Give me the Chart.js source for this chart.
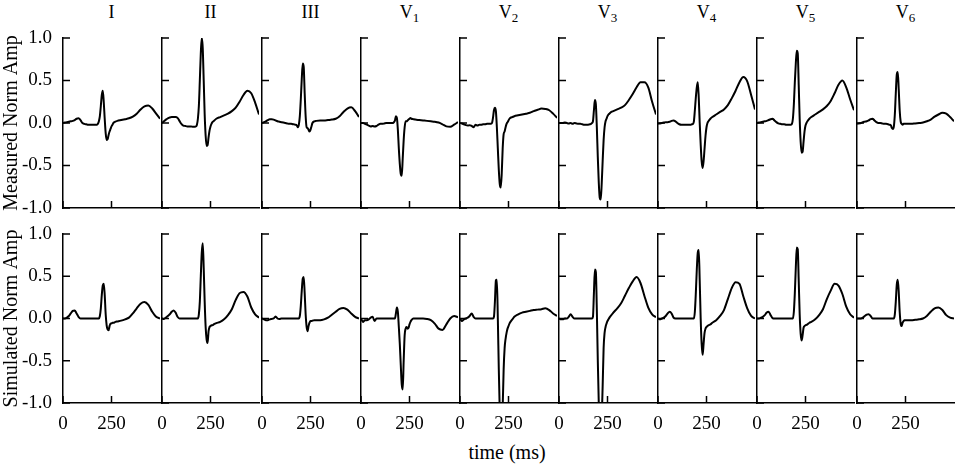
<!DOCTYPE html>
<html lang="en">
<head>
<meta charset="UTF-8" />
<title>Measured and simulated ECG leads</title>
<script src="https://cdn.jsdelivr.net/npm/chart.js"></script>
<style>
  html, body { margin: 0; padding: 0; background: #fff; }
  #fig { position: relative; width: 957px; height: 467px; overflow: hidden;
         font-family: 'Liberation Serif', 'Times New Roman', serif; color: #000; }
  .panel { position: absolute; }
  .lead { position: absolute; top: 0; width: 97px; text-align: center; font-size: 18px; line-height: 24px; color: #000; }
  .lead sub { font-size: 13px; vertical-align: -4px; line-height: 0; color: #000; }
  #xtitle { position: absolute; left: 407px; width: 200px; top: 440px; text-align: center;
            font-size: 20px; line-height: 24px; }
</style>
</head>
<body>
<div id="fig">
  <div id="xtitle">time (ms)</div>
</div>

<script>
// time samples (ms), shared by every trace
const T = [0, 10, 20, 30, 40, 50, 60, 70, 80, 90, 100, 110, 120, 130, 140, 150, 160,
  165, 170, 175, 180, 185, 190, 195, 200, 205, 210, 215, 220, 225, 230, 235, 240, 245, 250, 255, 260,
  270, 280, 300, 320, 340, 360, 380, 400, 420, 440, 460, 480, 500];

const leadNames = ['I', 'II', 'III', 'V1', 'V2', 'V3', 'V4', 'V5', 'V6'];
const xTicks = [0, 250];
const yTicks = [-1, -0.5, 0, 0.5, 1];
const rowTitles = ['Measured Norm Amp', 'Simulated Norm Amp'];

// measured leads
const measI = [0, 0.005, 0.01, 0.015, 0.02, 0.025, 0.035, 0.05, 0.055, 0.035, 0, -0.01, -0.015, -0.02, -0.02, -0.02, -0.02,
  -0.02, -0.02, -0.02, -0.01, 0.02, 0.08, 0.2, 0.33, 0.38, 0.25, 0.05, -0.12, -0.2, -0.19, -0.14, -0.1, -0.07, -0.04, -0.02, 0,
  0.015, 0.025, 0.035, 0.045, 0.055, 0.075, 0.11, 0.16, 0.195, 0.205, 0.17, 0.11, 0.05];
const measII = [0, 0.02, 0.04, 0.055, 0.065, 0.07, 0.07, 0.07, 0.06, 0.025, -0.01, -0.03, -0.035, -0.04, -0.04, -0.04, -0.045,
  -0.045, -0.045, -0.04, -0.02, 0.05, 0.2, 0.5, 0.82, 1.0, 0.88, 0.5, 0.1, -0.15, -0.27, -0.26, -0.17, -0.09, -0.04, -0.01, 0.01,
  0.03, 0.05, 0.07, 0.09, 0.11, 0.14, 0.18, 0.25, 0.33, 0.38, 0.35, 0.24, 0.1];
const measIII = [0, 0.01, 0.02, 0.035, 0.045, 0.045, 0.04, 0.03, 0.02, 0.015, 0.01, 0.005, 0, -0.005, -0.01, -0.01, -0.015,
  -0.015, -0.02, -0.02, -0.03, -0.05, -0.02, 0.08, 0.28, 0.52, 0.7, 0.66, 0.35, 0.08, -0.05, -0.06, -0.08, -0.1, -0.08, -0.04, 0,
  0.02, 0.025, 0.03, 0.03, 0.035, 0.04, 0.05, 0.08, 0.13, 0.17, 0.185, 0.14, 0.07];
const measV1 = [0, 0, -0.01, -0.02, -0.03, -0.04, -0.035, -0.04, -0.035, -0.02, -0.01, -0.01, -0.005, 0, 0, 0, 0,
  0, 0.01, 0.03, 0.08, 0.06, -0.08, -0.3, -0.48, -0.6, -0.62, -0.42, -0.2, -0.05, 0.02, 0.02, 0.03, 0.04, 0.05, 0.06, 0.05,
  0.045, 0.04, 0.035, 0.03, 0.025, 0.02, 0.015, 0.005, -0.015, -0.04, -0.045, -0.02, 0.01];
const measV2 = [0, -0.005, -0.015, -0.025, -0.03, -0.025, -0.035, -0.05, -0.02, -0.03, -0.02, -0.02, -0.015, -0.015, -0.01, -0.01, -0.01,
  0, 0.06, 0.15, 0.18, 0.14, -0.05, -0.3, -0.55, -0.72, -0.76, -0.6, -0.3, -0.13, -0.1, -0.05, -0.01, 0.01, 0.03, 0.05, 0.06,
  0.07, 0.08, 0.09, 0.1, 0.11, 0.12, 0.14, 0.155, 0.17, 0.165, 0.15, 0.11, 0.06];
const measV3 = [0, 0, 0, 0.005, 0, -0.005, 0, -0.01, 0, -0.005, -0.01, -0.01, -0.015, -0.02, -0.02, -0.02, -0.015,
  -0.01, 0, 0.02, 0.15, 0.27, 0.22, -0.05, -0.4, -0.7, -0.88, -0.9, -0.72, -0.45, -0.2, -0.05, 0.02, 0.05, 0.08, 0.1, 0.11,
  0.13, 0.14, 0.16, 0.18, 0.21, 0.27, 0.34, 0.42, 0.48, 0.48, 0.42, 0.25, 0.1];
const measV4 = [-0.01, -0.005, 0, 0.005, 0.01, 0.01, 0.015, 0.025, 0.03, 0.02, 0, -0.015, -0.02, -0.02, -0.02, -0.02, -0.02,
  -0.02, -0.02, -0.015, -0.01, 0.02, 0.15, 0.3, 0.42, 0.48, 0.3, 0, -0.25, -0.45, -0.53, -0.45, -0.3, -0.15, -0.05, 0, 0.02,
  0.05, 0.07, 0.1, 0.13, 0.16, 0.21, 0.29, 0.38, 0.48, 0.54, 0.49, 0.33, 0.16];
const measV5 = [0, 0.005, 0.01, 0.015, 0.02, 0.025, 0.035, 0.045, 0.05, 0.03, 0.01, -0.005, -0.01, -0.015, -0.015, -0.02, -0.02,
  -0.02, -0.02, -0.02, -0.01, 0.05, 0.22, 0.48, 0.7, 0.85, 0.82, 0.45, 0.05, -0.22, -0.35, -0.34, -0.22, -0.1, -0.03, 0, 0.02,
  0.05, 0.07, 0.1, 0.13, 0.16, 0.2, 0.26, 0.35, 0.45, 0.5, 0.42, 0.28, 0.15];
const measV6 = [-0.01, -0.005, 0, 0.01, 0.015, 0.02, 0.03, 0.045, 0.05, 0.03, 0.01, 0, 0, -0.005, -0.01, -0.01, -0.015,
  -0.02, -0.02, -0.03, -0.06, -0.07, -0.04, 0.1, 0.35, 0.57, 0.6, 0.4, 0.15, 0.02, -0.01, -0.02, -0.01, -0.01, -0.01, -0.01, -0.01,
  -0.01, -0.01, -0.005, 0, 0.005, 0.02, 0.04, 0.075, 0.1, 0.12, 0.11, 0.07, 0.02];

// simulated leads
const simI = [0, 0, 0.01, 0.03, 0.06, 0.09, 0.095, 0.06, 0.02, 0, 0, 0, 0, 0, 0, 0, 0,
  0, 0, 0, 0, 0, 0.03, 0.12, 0.28, 0.39, 0.41, 0.28, 0.05, -0.08, -0.13, -0.14, -0.09, -0.06, -0.06, -0.05, -0.05,
  -0.04, -0.035, -0.025, -0.01, 0.01, 0.06, 0.12, 0.175, 0.195, 0.16, 0.08, 0.02, 0];
const simII = [0, -0.005, 0.01, 0.03, 0.05, 0.08, 0.095, 0.07, 0.02, 0, 0, 0, 0, 0, 0, 0, 0,
  0, 0, 0, 0, 0, 0.05, 0.2, 0.5, 0.78, 0.89, 0.6, 0.2, -0.1, -0.25, -0.29, -0.15, -0.1, -0.09, -0.08, -0.08,
  -0.065, -0.055, -0.04, -0.01, 0.04, 0.11, 0.22, 0.3, 0.315, 0.26, 0.13, 0.05, 0.01];
const simIII = [0, -0.01, -0.02, -0.02, -0.01, -0.005, 0, 0.025, 0, -0.005, 0, 0, 0, 0, 0, 0, 0,
  0, 0, 0, 0, 0, 0, 0.03, 0.15, 0.33, 0.47, 0.49, 0.3, 0.05, -0.1, -0.15, -0.09, -0.05, -0.03, -0.03, -0.025,
  -0.02, -0.02, -0.02, -0.01, 0.01, 0.045, 0.08, 0.115, 0.125, 0.105, 0.06, 0.02, 0];
const simV1 = [0, -0.04, -0.02, -0.02, -0.01, 0.01, 0.02, -0.03, 0, 0, 0, 0, 0, 0, 0, 0, 0,
  0, 0, 0, 0.06, 0.13, 0.08, -0.1, -0.3, -0.55, -0.78, -0.84, -0.5, -0.2, -0.12, -0.1, -0.12, -0.11, -0.07, -0.04, -0.02,
  0, 0, 0, 0, -0.005, -0.02, -0.06, -0.12, -0.135, -0.07, 0, 0.03, 0.015];
const simV2 = [0, -0.03, -0.01, 0, 0.01, 0.03, 0.06, 0.02, 0, 0, 0, 0, 0, 0, 0, 0, 0,
  0, 0, 0.02, 0.2, 0.45, 0.46, 0, -0.6, -1.1, -1.4, -1.3, -1.05, -0.6, -0.35, -0.24, -0.17, -0.12, -0.09, -0.06, -0.04,
  -0.01, 0.02, 0.05, 0.07, 0.08, 0.09, 0.1, 0.105, 0.11, 0.12, 0.1, 0.06, 0.03];
const simV3 = [0, -0.01, -0.01, 0, 0, 0.02, 0.05, 0.02, 0, 0, 0, 0, 0, 0, 0, 0, 0,
  0, 0, 0.02, 0.3, 0.58, 0.55, 0.1, -0.5, -1.0, -1.3, -1.35, -1.2, -0.8, -0.35, -0.17, -0.1, -0.06, -0.03, -0.01, 0.01,
  0.04, 0.07, 0.12, 0.18, 0.27, 0.36, 0.44, 0.49, 0.42, 0.27, 0.13, 0.05, 0.015];
const simV4 = [0, -0.01, 0, 0.01, 0.03, 0.06, 0.08, 0.06, 0.01, 0, 0, 0, 0, 0, 0, 0, 0,
  0, 0, 0, 0, 0, 0.08, 0.3, 0.58, 0.78, 0.81, 0.45, 0, -0.3, -0.43, -0.3, -0.17, -0.12, -0.1, -0.09, -0.08,
  -0.07, -0.05, -0.02, 0.03, 0.1, 0.23, 0.36, 0.43, 0.41, 0.26, 0.12, 0.03, 0];
const simV5 = [0, 0, 0.01, 0.02, 0.04, 0.07, 0.08, 0.04, 0.005, 0, 0, 0, 0, 0, 0, 0, 0,
  0, 0, 0, 0, 0, 0.08, 0.3, 0.6, 0.84, 0.82, 0.45, 0.05, -0.18, -0.26, -0.2, -0.11, -0.09, -0.08, -0.075, -0.07,
  -0.05, -0.04, -0.01, 0.04, 0.11, 0.23, 0.33, 0.41, 0.39, 0.29, 0.14, 0.05, 0.01];
const simV6 = [0, 0, 0, 0.01, 0.03, 0.045, 0.05, 0.03, 0, 0, 0, 0, 0, 0, 0, 0, 0,
  0, 0, 0, 0, 0, 0, 0.05, 0.2, 0.4, 0.46, 0.32, 0.08, -0.06, -0.09, -0.05, -0.03, -0.02, -0.02, -0.02, -0.02,
  -0.02, -0.02, -0.015, -0.01, 0, 0.03, 0.08, 0.12, 0.13, 0.1, 0.04, 0.01, 0];

const measured = [measI, measII, measIII, measV1, measV2, measV3, measV4, measV5, measV6];
const simulated = [simI, simII, simIII, simV1, simV2, simV3, simV4, simV5, simV6];

const SERIF = "'Liberation Serif', 'Times New Roman', serif";
Chart.defaults.font.family = SERIF;
Chart.defaults.color = '#000';

// layout of the panel grid (pixels)
const GUTTER = 63, PLOT_W = 97, PAD_TOP = 24, X_AXIS_H = 40;
const colLeft = c => Math.round(63.3 + 99.15 * c);
const rows = [
  { series: measured, top: 38, h: 170, labels: false },
  { series: simulated, top: 234, h: 169, labels: true }
];

// tick marks drawn inward from the axis lines
const inwardTicks = {
  id: 'inwardTicks',
  afterDraw(chart) {
    const { ctx, chartArea: a, scales: { x, y } } = chart;
    ctx.save();
    ctx.strokeStyle = '#000';
    ctx.lineWidth = 1.5;
    ctx.beginPath();
    y.ticks.forEach(t => {
      const py = y.getPixelForValue(t.value);
      ctx.moveTo(a.left, py);
      ctx.lineTo(a.left + 7, py);
    });
    x.ticks.forEach(t => {
      const px = x.getPixelForValue(t.value);
      ctx.moveTo(px, a.bottom);
      ctx.lineTo(px, a.bottom - 7);
    });
    ctx.stroke();
    ctx.restore();
  }
};

const fig = document.getElementById('fig');

// lead titles
leadNames.forEach((name, c) => {
  const d = document.createElement('div');
  d.className = 'lead';
  d.style.left = colLeft(c) + 'px';
  d.innerHTML = name.replace(/^V(\d)$/, 'V<sub>$1</sub>');
  fig.appendChild(d);
});

rows.forEach((row, r) => {
  row.series.forEach((vals, c) => {
    const w = GUTTER + PLOT_W + 4;
    const h = PAD_TOP + row.h + X_AXIS_H;
    const box = document.createElement('div');
    box.className = 'panel';
    box.style.left = (colLeft(c) - GUTTER) + 'px';
    box.style.top = (row.top - PAD_TOP) + 'px';
    const cv = document.createElement('canvas');
    cv.width = w;
    cv.height = h;
    cv.style.width = w + 'px';
    cv.style.height = h + 'px';
    box.appendChild(cv);
    fig.appendChild(box);

    new Chart(cv, {
      type: 'line',
      data: {
        datasets: [{
          data: T.map((t, i) => ({ x: t, y: vals[i] })),
          borderColor: '#000',
          borderWidth: 2,
          pointRadius: 0,
          fill: false,
          cubicInterpolationMode: 'monotone'
        }]
      },
      options: {
        responsive: false,
        animation: false,
        events: [],
        layout: { padding: { left: 0, top: PAD_TOP, right: 4, bottom: 0 } },
        plugins: { legend: { display: false }, tooltip: { enabled: false } },
        scales: {
          x: {
            type: 'linear', min: 0, max: 500,
            grid: { display: false, drawTicks: false },
            border: { color: '#000', width: 1.5 },
            afterBuildTicks: s => { s.ticks = xTicks.map(v => ({ value: v })); },
            afterFit: s => { s.height = X_AXIS_H; },
            ticks: { display: row.labels, padding: 10, color: '#000', font: { family: SERIF, size: 19 } }
          },
          y: {
            type: 'linear', min: -1, max: 1,
            grid: { display: false, drawTicks: false },
            border: { color: '#000', width: 1.5 },
            afterBuildTicks: s => { s.ticks = yTicks.map(v => ({ value: v })); },
            afterFit: s => { s.width = GUTTER; },
            ticks: { display: c === 0, padding: 11, color: '#000', font: { family: SERIF, size: 19 },
                     callback: v => v.toFixed(1) },
            title: { display: c === 0, text: rowTitles[r], color: '#000', padding: { top: 0, bottom: 0 },
                     font: { family: SERIF, size: 20 } }
          }
        }
      },
      plugins: [inwardTicks]
    });
  });
});
</script>
</body>
</html>
